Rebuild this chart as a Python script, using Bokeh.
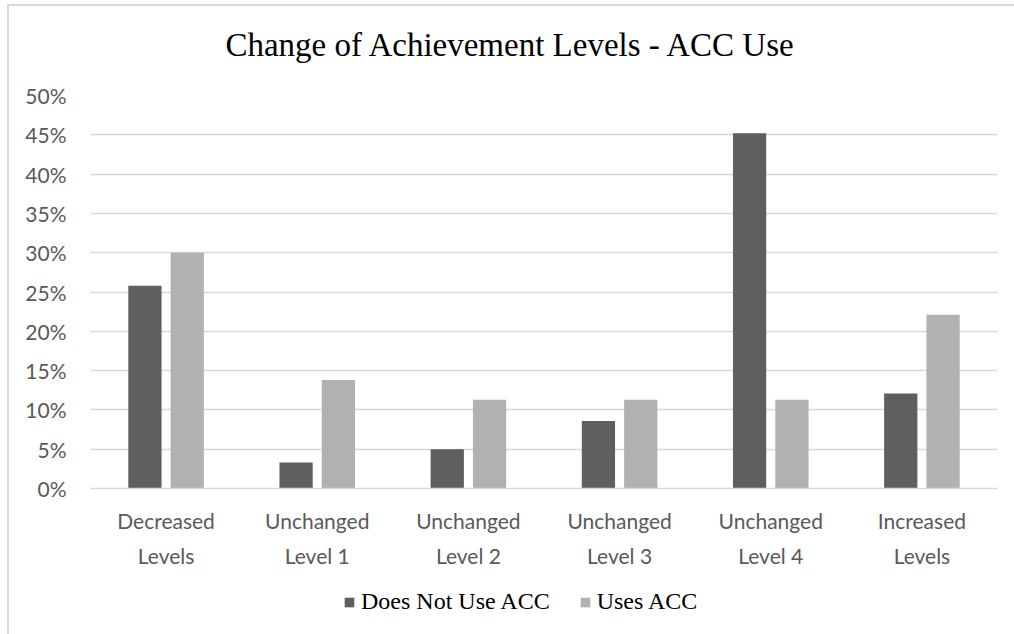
from bokeh.plotting import figure
from bokeh.layouts import column
from bokeh.models import (Range1d, FixedTicker, NumeralTickFormatter, Label,
                          Legend, LegendItem, ColumnDataSource)
from bokeh.embed import file_html
from bokeh.resources import INLINE

categories = ["Decreased\nLevels", "Unchanged\nLevel 1", "Unchanged\nLevel 2",
              "Unchanged\nLevel 3", "Unchanged\nLevel 4", "Increased\nLevels"]
does_not_use = [0.258, 0.033, 0.050, 0.086, 0.452, 0.121]
uses = [0.300, 0.138, 0.113, 0.113, 0.113, 0.221]
series_names = ["Does Not Use ACC", "Uses ACC"]
y_ticks = [0.0, 0.05, 0.10, 0.15, 0.20, 0.25, 0.30, 0.35, 0.40, 0.45, 0.50]
title_text = "Change of Achievement Levels - ACC Use"

DARK = "#5f5f5f"
LIGHT = "#b1b1b1"
GRID = "#d9d9d9"
TICK = "#595959"
TICK_FONT = "Lato"
SERIF = "Liberation Serif"

W = 1005
TH, H, LH = 70, 507, 51
ML, MR, MT, MB = 81, 17, 19, 95


def strip(height):
    f = figure(width=W, height=height, output_backend="svg", toolbar_location=None,
               x_range=Range1d(0, 1), y_range=Range1d(0, 1),
               min_border_left=0, min_border_right=0, min_border_top=0,
               min_border_bottom=0, outline_line_color=None,
               background_fill_color="white", border_fill_color="white")
    f.axis.visible = False
    f.grid.visible = False
    return f


# title strip
t = strip(TH)
t.add_layout(Label(x=0.464, y=0.443, text=title_text, text_font=SERIF,
                   text_font_size="33px", text_color="black",
                   text_align="center", text_baseline="middle"))

# main chart
p = figure(width=W, height=H, output_backend="svg", toolbar_location=None,
           x_range=Range1d(0, len(categories)), y_range=Range1d(0, 0.5),
           min_border_left=ML, min_border_right=MR, min_border_top=MT,
           min_border_bottom=MB, outline_line_color=None,
           background_fill_color="white", border_fill_color="white")

idx = list(range(len(categories)))
centers = [i + 0.5 for i in idx]
src = ColumnDataSource(dict(
    x_dark=[c - 0.14 for c in centers], x_light=[c + 0.14 for c in centers],
    dark=does_not_use, light=uses))

p.vbar(x="x_dark", top="dark", width=0.22, source=src,
       fill_color=DARK, line_color=None)
p.vbar(x="x_light", top="light", width=0.22, source=src,
       fill_color=LIGHT, line_color=None)

p.yaxis.ticker = FixedTicker(ticks=y_ticks)
p.yaxis.formatter = NumeralTickFormatter(format="0%")
p.yaxis.axis_line_color = None
p.yaxis.major_tick_line_color = None
p.yaxis.minor_tick_line_color = None
p.yaxis.major_tick_out = 0
p.yaxis.major_label_standoff = 24
p.yaxis.major_label_text_font = TICK_FONT
p.yaxis.major_label_text_font_size = "21px"
p.yaxis.major_label_text_color = TICK

p.xaxis.ticker = FixedTicker(ticks=centers)
p.xaxis.major_label_overrides = {c: lab for c, lab in zip(centers, categories)}
p.xaxis.axis_line_color = GRID
p.xaxis.axis_line_width = 1.5
p.xaxis.major_tick_line_color = None
p.xaxis.minor_tick_line_color = None
p.xaxis.major_tick_out = 0
p.xaxis.major_label_standoff = 19
p.xaxis.major_label_text_font = TICK_FONT
p.xaxis.major_label_text_font_size = "21px"
p.xaxis.major_label_text_color = TICK
p.xaxis.major_label_text_line_height = 1.42

p.xgrid.grid_line_color = None
p.ygrid.grid_line_color = GRID
p.ygrid.grid_line_width = 1.5

# legend strip
q = strip(LH)
offscreen = ColumnDataSource(dict(x=[-1.0], top=[-1.0]))
g1 = q.vbar(x="x", top="top", width=0.1, source=offscreen,
            fill_color=DARK, line_color=None)
g2 = q.vbar(x="x", top="top", width=0.1, source=offscreen,
            fill_color=LIGHT, line_color=None)
legend = Legend(items=[LegendItem(label=series_names[0], renderers=[g1]),
                       LegendItem(label=series_names[1], renderers=[g2])],
                orientation="horizontal", location=(253, 19),
                glyph_width=12, glyph_height=12, label_standoff=6,
                spacing=29, padding=0, margin=0,
                label_text_font=SERIF, label_text_font_size="24px",
                label_text_color="black", border_line_color=None,
                background_fill_alpha=0)
q.add_layout(legend, "center")

layout = column(t, p, q, spacing=0)
layout.styles = {"margin-left": "7px", "margin-top": "4px",
                 "border-left": "2px solid #d9d9d9", "border-top": "2px solid #d9d9d9"}

open("out.html", "w").write(file_html(layout, INLINE))
